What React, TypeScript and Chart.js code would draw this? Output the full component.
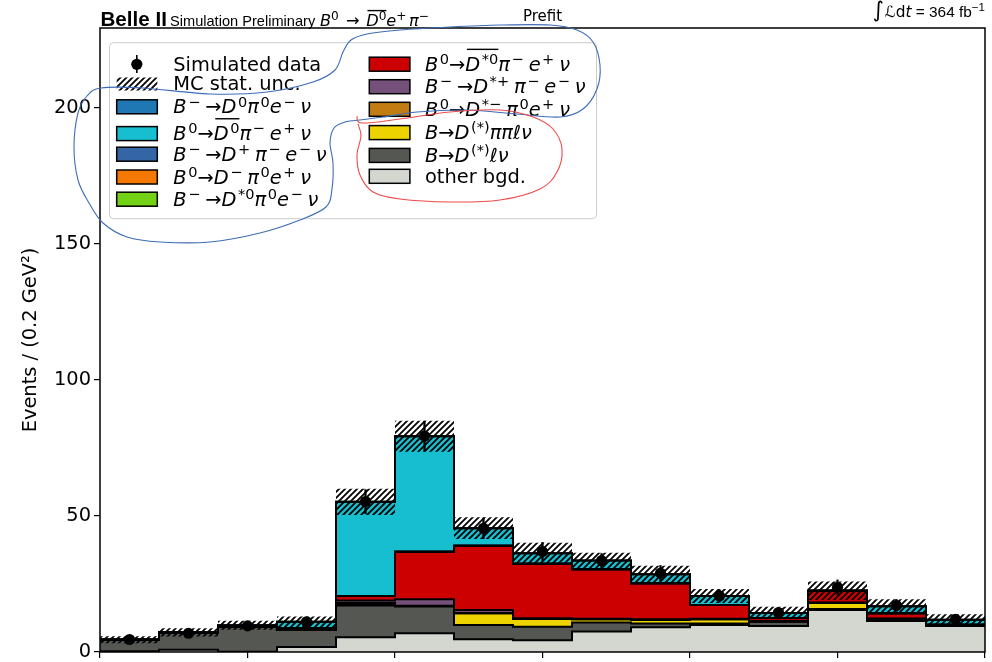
import React, { useEffect, useRef } from "react";
import { Chart, registerables } from "chart.js";

Chart.register(...registerables);

// ---------------- data ----------------
const binEdges = [-0.5, -0.3, -0.1, 0.1, 0.3, 0.5, 0.7, 0.9, 1.1, 1.3, 1.5, 1.7, 1.9, 2.1, 2.3, 2.5];
const yTickValues = [0, 50, 100, 150, 200];

// stacked components, bottom -> top
const otherBgd = [0.3, 0.8, 0.1, 1.8, 5.4, 6.9, 4.7, 4.3, 7.5, 9.1, 9.9, 9.6, 15.4, 11.4, 9.6];
const bDstarLNu = [4.2, 6.4, 9.3, 6.3, 11.7, 9.8, 5.2, 5.0, 3.3, 1.4, 0.6, 1.5, 0.4, 0.6, 0.2];
const bDstarPiPiLNu = [0, 0, 0, 0, 0.5, 0.2, 4.3, 2.8, 1.2, 1.3, 1.5, 0.2, 2.3, 0.2, 0];
const b0DstarMinusPi0 = [0, 0, 0, 0, 0.4, 0.1, 0, 0, 0, 0, 0, 0, 0, 0, 0];
const bmDstarPlusPim = [0, 0, 0, 0.1, 0.9, 2.4, 1.2, 0.3, 0.2, 0.2, 0.2, 0, 0, 0, 0];
const b0Dstar0barPim = [0, 0, 0, 0.5, 1.7, 17.5, 23.7, 20.0, 18.2, 13.3, 5.1, 1.2, 4.4, 2.0, 0.2];
const bmDstar0Pi0 = [0, 0, 0, 0, 0, 0, 0, 0, 0, 0, 0, 0, 0, 0, 0];
const b0DminusPi0 = [0, 0, 0, 0, 0, 0, 0, 0, 0, 0, 0, 0, 0, 0, 0];
const bmDplusPim = [0, 0, 0, 0, 0, 0, 0, 0, 0, 0, 0, 0, 0, 0, 0];
const b0D0barPim = [0, 0, 0.4, 2.4, 34.6, 42.4, 6.4, 3.9, 3.2, 3.3, 3.3, 1.8, 0, 2.6, 1.9];
const bmD0Pi0 = [0, 0, 0, 0, 0, 0, 0, 0, 0, 0, 0, 0, 0, 0, 0];

const simData = [4.6, 6.9, 9.6, 11.1, 55.3, 79.4, 45.5, 36.9, 33.6, 29.0, 20.6, 14.5, 23.8, 17.1, 12.0];
const simErr = [1.0, 1.2, 1.4, 1.6, 4.4, 5.5, 3.8, 3.4, 2.6, 2.8, 2.3, 1.9, 2.7, 2.2, 1.6];
const mcStatUnc = [1.3, 1.5, 1.65, 1.95, 4.8, 5.7, 4.0, 3.9, 2.9, 3.1, 2.6, 2.3, 3.4, 2.6, 2.0];

// ---------------- text segments ----------------
type Seg = { t: string; it?: boolean; sup?: boolean; ov?: boolean; gap?: number; pre?: number; sc?: number; fam?: string };
const I = (t: string, ov = false): Seg => ({ t, it: true, ov });
const N = (t: string): Seg => ({ t });
const S = (t: string, ov = false): Seg => ({ t, sup: true, ov, pre: 0.08 });
const Sg = (t: string): Seg => ({ t, sup: true, pre: 0.08, gap: 0.25 });

const layerDefs = [
  { label: "other bgd.", color: "#d3d7cf", values: otherBgd, segs: [N("other bgd.")] },
  { label: "B→D(*)ℓν", color: "#555753", values: bDstarLNu, segs: [I("B"), N("→"), I("D"), S("(*)"), I("ℓν")] },
  { label: "B→D(*)ππℓν", color: "#edd400", values: bDstarPiPiLNu, segs: [I("B"), N("→"), I("D"), S("(*)"), I("ππℓν")] },
  { label: "B0→D*-π0e+ν", color: "#c17d11", values: b0DstarMinusPi0, segs: [I("B"), S("0"), N("→"), I("D"), Sg("*−"), I("π"), S("0"), I("e"), Sg("+"), I("ν")] },
  { label: "B-→D*+π-e-ν", color: "#75507b", values: bmDstarPlusPim, segs: [I("B"), Sg("−"), N("→"), I("D"), Sg("*+"), I("π"), Sg("−"), I("e"), Sg("−"), I("ν")] },
  { label: "B0→D*0barπ-e+ν", color: "#cc0000", values: b0Dstar0barPim, segs: [I("B"), S("0"), N("→"), I("D", true), S("*0", true), I("π"), Sg("−"), I("e"), Sg("+"), I("ν")] },
  { label: "B-→D*0π0e-ν", color: "#73d216", values: bmDstar0Pi0, segs: [I("B"), Sg("−"), N("→"), I("D"), S("*0"), I("π"), S("0"), I("e"), Sg("−"), I("ν")] },
  { label: "B0→D-π0e+ν", color: "#f57900", values: b0DminusPi0, segs: [I("B"), S("0"), N("→"), I("D"), Sg("−"), I("π"), S("0"), I("e"), Sg("+"), I("ν")] },
  { label: "B-→D+π-e-ν", color: "#3465a4", values: bmDplusPim, segs: [I("B"), Sg("−"), N("→"), I("D"), Sg("+"), I("π"), Sg("−"), I("e"), Sg("−"), I("ν")] },
  { label: "B0→D0barπ-e+ν", color: "#17becf", values: b0D0barPim, segs: [I("B"), S("0"), N("→"), I("D", true), S("0", true), I("π"), Sg("−"), I("e"), Sg("+"), I("ν")] },
  { label: "B-→D0π0e-ν", color: "#1f77b4", values: bmD0Pi0, segs: [I("B"), Sg("−"), N("→"), I("D"), S("0"), I("π"), S("0"), I("e"), Sg("−"), I("ν")] },
];

// legend layout: [layer index, row centre y]
const legendCol1 = [
  [10, 106.8],
  [9, 133.6],
  [8, 154.2],
  [7, 177.0],
  [6, 199.2],
];
const legendCol2 = [
  [5, 64.2],
  [4, 86.7],
  [3, 109.3],
  [2, 132.6],
  [1, 155.4],
  [0, 176.3],
];

// hand-drawn annotation strokes (decoration on top of the figure)
const blueStroke = [
  [360, 120], [345, 122], [334, 128], [330, 143], [333, 163], [332, 189], [326, 207], [300, 220], [260, 233],
  [210, 242], [160, 242], [127, 237], [103, 223], [89, 203], [78, 180], [74, 147], [78, 113], [87, 96],
  [101, 88], [143, 88], [210, 94], [267, 92], [313, 82], [335, 70], [343, 52], [351, 40], [367, 34],
  [400, 30], [450, 27], [500, 25], [550, 25], [577, 30], [593, 42], [600, 65], [597, 89], [583, 109],
  [560, 117], [517, 114], [467, 110], [417, 112], [383, 117], [360, 120],
];
const redStroke = [
  [357, 116], [362, 123], [400, 119], [450, 112], [500, 110], [533, 117], [553, 129], [562, 149], [557, 172],
  [540, 189], [500, 200], [450, 202], [400, 199], [373, 192], [360, 175], [357, 155], [361, 136], [358, 124],
];

const W = 992;
const H = 720;
const AREA_BOTTOM = 652;
const SUP_SCALE = 0.75;

function drawRich(ctx: CanvasRenderingContext2D, segs: Seg[], x: number, y: number, size: number, ovRaise: number, measureOnly = false) {
  let cx = x;
  let ov0: number | null = null;
  let ov1 = 0;
  for (const s of segs) {
    const fs = (s.sup ? size * SUP_SCALE : size) * (s.sc || 1);
    ctx.font = `${s.it ? "italic " : ""}${fs}px ${s.fam || '"DejaVu Sans"'}`;
    const dy = s.sup ? -size * 0.35 : 0;
    cx += (s.pre || 0) * size;
    if (!measureOnly) ctx.fillText(s.t, cx, y + dy);
    const w = ctx.measureText(s.t).width;
    if (s.ov) {
      if (ov0 === null) ov0 = cx;
      ov1 = cx + w;
    }
    cx += w + (s.gap || 0) * size;
  }
  if (!measureOnly && ov0 !== null) {
    ctx.fillRect(ov0 + size * 0.08, y - size * ovRaise - 0.7, ov1 - ov0 - size * 0.08, 1.4);
  }
  return cx - x;
}

function smoothStroke(ctx: CanvasRenderingContext2D, pts: number[][]) {
  ctx.beginPath();
  ctx.moveTo(pts[0][0], pts[0][1]);
  for (let i = 0; i < pts.length - 1; i++) {
    const p0 = pts[i - 1] || pts[i];
    const p1 = pts[i];
    const p2 = pts[i + 1];
    const p3 = pts[i + 2] || p2;
    ctx.bezierCurveTo(
      p1[0] + (p2[0] - p0[0]) / 6, p1[1] + (p2[1] - p0[1]) / 6,
      p2[0] - (p3[0] - p1[0]) / 6, p2[1] - (p3[1] - p1[1]) / 6,
      p2[0], p2[1]
    );
  }
  ctx.stroke();
}

function makeHatch(): CanvasPattern | string {
  const c = document.createElement("canvas");
  c.width = 6;
  c.height = 6;
  const g = c.getContext("2d");
  if (!g) return "rgba(0,0,0,0.3)";
  g.strokeStyle = "#000";
  g.lineWidth = 1.8;
  g.beginPath();
  g.moveTo(-1, 7); g.lineTo(7, -1);
  g.moveTo(-4, 4); g.lineTo(4, -4);
  g.moveTo(2, 10); g.lineTo(10, 2);
  g.stroke();
  const p = g.createPattern(c, "repeat");
  return p || "rgba(0,0,0,0.3)";
}

export default function App() {
  const ref = useRef<HTMLCanvasElement | null>(null);

  useEffect(() => {
    document.body.style.margin = "0";
    const canvas = ref.current;
    if (!canvas) return;
    const hatch = makeHatch();

    const centers = simData.map((_, i) => (binEdges[i] + binEdges[i + 1]) / 2);
    const stepPts = (vals: number[]) => binEdges.map((x, i) => ({ x, y: vals[Math.min(i, vals.length - 1)] }));

    let run = simData.map(() => 0);
    const cum = layerDefs.map((l) => {
      run = run.map((r, i) => r + l.values[i]);
      return run;
    });
    const total = cum[cum.length - 1];

    const datasets: any[] = [];
    // index 0: data points
    datasets.push({
      type: "line",
      label: "Simulated data",
      data: centers.map((c, i) => ({ x: c, y: simData[i] })),
      showLine: false,
      fill: false,
      pointRadius: 5.6,
      pointBackgroundColor: "#000",
      pointBorderWidth: 0,
      order: 1,
    });
    // index 1: error bars
    datasets.push({
      type: "bar",
      label: "data err",
      data: centers.map((c, i) => ({ x: c, y: [simData[i] - simErr[i], simData[i] + simErr[i]] })),
      backgroundColor: "#000",
      borderWidth: 0,
      barThickness: 1.6,
      order: 2,
    });
    const layerStart = datasets.length;
    layerDefs.forEach((l, k) => {
      datasets.push({
        type: "line",
        label: l.label,
        data: stepPts(cum[k]),
        stepped: true,
        tension: 0,
        borderColor: "#000",
        borderWidth: 2,
        borderJoinStyle: "miter",
        backgroundColor: l.color,
        fill: k === 0 ? "origin" : layerStart + k - 1,
        pointRadius: 0,
        order: 10,
      });
    });
    const loIndex = datasets.length;
    datasets.push({
      type: "line",
      label: "unc low",
      data: stepPts(total.map((t, i) => t - mcStatUnc[i])),
      stepped: true,
      borderWidth: 0,
      pointRadius: 0,
      fill: false,
      order: 5,
    });
    datasets.push({
      type: "line",
      label: "MC stat. unc.",
      data: stepPts(total.map((t, i) => t + mcStatUnc[i])),
      stepped: true,
      borderWidth: 0,
      pointRadius: 0,
      backgroundColor: hatch,
      fill: loIndex,
      order: 5,
    });

    const decor = {
      id: "decor",
      afterDraw(chart: any) {
        const ctx: CanvasRenderingContext2D = chart.ctx;
        const a = chart.chartArea;
        ctx.save();
        // frame
        ctx.strokeStyle = "#000";
        ctx.lineWidth = 1.5;
        ctx.strokeRect(a.left, a.top, a.right - a.left, a.bottom - a.top);

        // legend box
        const lx = 109.5, ly = 42.7, lw = 487, lh = 176, r = 4;
        ctx.beginPath();
        ctx.moveTo(lx + r, ly);
        ctx.arcTo(lx + lw, ly, lx + lw, ly + lh, r);
        ctx.arcTo(lx + lw, ly + lh, lx, ly + lh, r);
        ctx.arcTo(lx, ly + lh, lx, ly, r);
        ctx.arcTo(lx, ly, lx + lw, ly, r);
        ctx.closePath();
        ctx.fillStyle = "rgba(255,255,255,0.8)";
        ctx.fill();
        ctx.strokeStyle = "#cccccc";
        ctx.lineWidth = 1;
        ctx.stroke();

        const fsz = 19.4;
        ctx.fillStyle = "#000";
        ctx.textBaseline = "alphabetic";
        ctx.textAlign = "left";
        // data handle
        ctx.fillRect(136, 55, 1.6, 18);
        ctx.beginPath();
        ctx.arc(136.8, 64.3, 5.6, 0, Math.PI * 2);
        ctx.fill();
        ctx.font = `${fsz}px "DejaVu Sans"`;
        ctx.fillText("Simulated data", 173.3, 70.8);
        // hatch handle
        ctx.fillStyle = hatch as any;
        ctx.fillRect(116.7, 77.5, 40.6, 13);
        ctx.fillStyle = "#000";
        ctx.font = `${fsz}px "DejaVu Sans"`;
        ctx.fillText("MC stat. unc.", 173.3, 90.3);

        const drawEntry = (idx: number, bx: number, tx: number, cy: number) => {
          const l = layerDefs[idx];
          ctx.fillStyle = l.color;
          ctx.fillRect(bx, cy - 7, 40.6, 14);
          ctx.strokeStyle = "#000";
          ctx.lineWidth = 1.5;
          ctx.strokeRect(bx, cy - 7, 40.6, 14);
          ctx.fillStyle = "#000";
          drawRich(ctx, l.segs, tx, cy + 6.5, fsz, 1.1);
        };
        legendCol1.forEach(([idx, cy]) => drawEntry(idx, 116.7, 173.3, cy));
        legendCol2.forEach(([idx, cy]) => drawEntry(idx, 369.3, 425, cy));

        // titles
        ctx.fillStyle = "#000";
        ctx.font = `bold 20.6px "Liberation Sans"`;
        ctx.fillText("Belle II", 100.5, 25.5);
        ctx.font = `14.6px "Liberation Sans"`;
        ctx.fillText("Simulation Preliminary", 170, 25.5);
        drawRich(
          ctx,
          [I("B"), { t: "0", sup: true, gap: 0.45 }, { t: "→", gap: 0.4 }, I("D", true), { t: "0", sup: true, ov: true }, I("e"), { t: "+", sup: true, gap: 0.15 }, I("π"), { t: "−", sup: true }],
          320,
          25.5,
          16.2,
          0.92
        );
        ctx.font = `15px "DejaVu Sans"`;
        ctx.textAlign = "center";
        ctx.fillText("Prefit", (a.left + a.right) / 2, 20.7);
        ctx.textAlign = "left";
        const lumi: Seg[] = [
          { t: "∫", sc: 1.4, gap: 0.05 },
          I("ℒ"),
          N("d"),
          I("t"),
          { t: " = 364 fb", fam: '"Liberation Sans"' },
          { t: "−1", sup: true, fam: '"Liberation Sans"' },
        ];
        const lw2 = drawRich(ctx, lumi, 0, 0, 15.4, 1, true);
        drawRich(ctx, lumi, a.right - lw2, 16.8, 15.4, 1);

        // hand-drawn annotations
        ctx.lineWidth = 1.1;
        ctx.strokeStyle = "#3e6db5";
        smoothStroke(ctx, blueStroke);
        ctx.strokeStyle = "#ee4b4b";
        smoothStroke(ctx, redStroke);
        ctx.restore();
      },
    };

    const chart = new Chart(canvas, {
      type: "line",
      data: { datasets },
      options: {
        animation: false,
        responsive: false,
        devicePixelRatio: 1,
        events: [],
        layout: { padding: { top: 28, right: 7, left: 0, bottom: 0 } },
        plugins: {
          legend: { display: false },
          tooltip: { enabled: false },
          filler: { drawTime: "beforeDatasetsDraw" },
        },
        scales: {
          x: {
            type: "linear",
            min: binEdges[0],
            max: binEdges[binEdges.length - 1],
            offset: false,
            afterFit: (s: any) => {
              s.height = H - AREA_BOTTOM;
              s.paddingLeft = 0;
              s.paddingRight = 0;
            },
            ticks: { stepSize: 0.5, color: "#000", font: { family: "DejaVu Sans", size: 19.4 }, padding: 4 },
            grid: { offset: false, drawOnChartArea: false, drawTicks: true, tickLength: 6, color: "#000", lineWidth: 1.2 },
            border: { display: false },
          },
          y: {
            type: "linear",
            min: 0,
            max: 229.4,
            afterFit: (s: any) => {
              s.width = 100;
              s.paddingTop = 0;
              s.paddingBottom = 0;
            },
            afterBuildTicks: (s: any) => {
              s.ticks = yTickValues.map((v) => ({ value: v }));
            },
            ticks: { color: "#000", font: { family: "DejaVu Sans", size: 19.4 }, padding: 3 },
            grid: { offset: false, drawOnChartArea: false, drawTicks: true, tickLength: 6, color: "#000", lineWidth: 1.2 },
            border: { display: false },
            title: {
              display: true,
              text: "Events / (0.2 GeV²)",
              color: "#000",
              font: { family: "DejaVu Sans", size: 19.4 },
              padding: { top: 19, bottom: 0 },
            },
          },
        },
      },
      plugins: [decor],
    } as any);
    return () => chart.destroy();
  }, []);

  return (
    <div style={{ width: W, height: 662, overflow: "hidden", position: "relative", background: "#fff" }}>
      <canvas ref={ref} width={W} height={H} style={{ display: "block" }} />
    </div>
  );
}
